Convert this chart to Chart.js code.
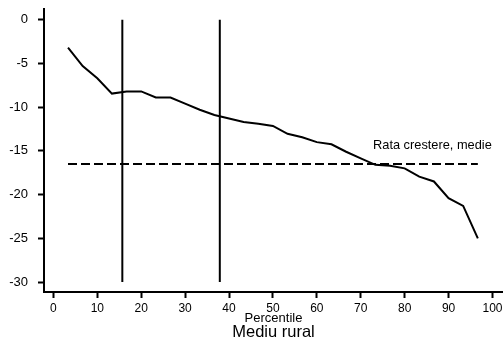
<!DOCTYPE html>
<html>
<head>
<meta charset="utf-8">
<script src="https://cdn.jsdelivr.net/npm/chart.js@4.4.1/dist/chart.umd.min.js"></script>
<style>
    body { margin: 0; background: #fff; }
    canvas { display: block; }
</style>
</head>
<body>
<canvas id="growth-chart" width="503" height="341"></canvas>
<script>
(function () {
    "use strict";

    // Percentile points and growth rate per percentile
    var percentiles = [3.33, 6.67, 10, 13.33, 16.67, 20, 23.33, 26.67, 30, 33.33,
        36.67, 40, 43.33, 46.67, 50, 53.33, 56.67, 60, 63.33, 66.67,
        70, 73.33, 76.67, 80, 83.33, 86.67, 90, 93.33, 96.67];
    var growth = [-3.2, -5.3, -6.7, -8.45, -8.2, -8.2, -8.9, -8.9, -9.6, -10.3,
        -10.9, -11.3, -11.7, -11.9, -12.15, -13.05, -13.45, -14.0, -14.25, -15.1,
        -15.85, -16.6, -16.7, -17.0, -17.95, -18.5, -20.4, -21.3, -25.0];

    // Mean growth rate and the two marker percentiles
    var meanGrowth = -16.5;
    var markers = [15.7, 37.9];
    var markerSpan = [0, -30];

    var xTicks = [0, 10, 20, 30, 40, 50, 60, 70, 80, 90, 100];
    var yTicks = [0, -5, -10, -15, -20, -25, -30];

    var meanLabel = "Rata crestere, medie";
    var xTitle = "Percentile";
    var chartTitle = "Mediu rural";

    var font = "'Liberation Sans', Arial, sans-serif";

    var datasets = [{
        data: percentiles.map(function (p, i) { return {x: p, y: growth[i]}; }),
        borderColor: "#000",
        borderWidth: 2,
        showLine: true,
        pointRadius: 0
    }, {
        data: [{x: percentiles[0], y: meanGrowth}, {x: percentiles[percentiles.length - 1], y: meanGrowth}],
        borderColor: "#000",
        borderWidth: 2,
        borderDash: [9, 4],
        showLine: true,
        pointRadius: 0
    }];
    markers.forEach(function (m) {
        datasets.push({
            data: [{x: m, y: markerSpan[0]}, {x: m, y: markerSpan[1]}],
            borderColor: "#000",
            borderWidth: 2,
            showLine: true,
            pointRadius: 0
        });
    });

    // Text next to the mean line
    var meanLabelPlugin = {
        id: "meanLabel",
        afterDatasetsDraw: function (chart) {
            var ctx = chart.ctx;
            var x = chart.scales.x.getPixelForValue(72.8);
            var y = chart.scales.y.getPixelForValue(-14.82);
            ctx.save();
            ctx.font = "12.8px " + font;
            ctx.fillStyle = "#000";
            ctx.textAlign = "left";
            ctx.textBaseline = "alphabetic";
            ctx.fillText(meanLabel, x, y);
            ctx.restore();
        }
    };

    // keep the axes from reserving room for their end labels
    function noLabelPadding(scale) {
        scale.paddingTop = 0;
        scale.paddingBottom = 0;
        scale.paddingLeft = 0;
        scale.paddingRight = 0;
    }

    var ctx = document.getElementById("growth-chart").getContext("2d");
    var growthChart = new Chart(ctx, {
        type: "scatter",
        data: { datasets: datasets },
        options: {
            responsive: false,
            animation: false,
            layout: { padding: { top: 9.3, right: 0, bottom: 0, left: 0 } },
            plugins: {
                legend: { display: false },
                tooltip: { enabled: false },
                title: {
                    display: true,
                    text: chartTitle,
                    position: "bottom",
                    fullSize: false,
                    color: "#000",
                    font: { family: font, size: 16.5, weight: "normal", lineHeight: 1.2 },
                    padding: { top: 2, bottom: -1 }
                }
            },
            scales: {
                x: {
                    type: "linear",
                    min: -2.14,
                    max: 102.4,
                    afterBuildTicks: function (scale) {
                        scale.ticks = xTicks.map(function (v) { return {value: v}; });
                    },
                    afterFit: function (scale) {
                        scale.height = 28.2;
                        noLabelPadding(scale);
                    },
                    border: { display: true, color: "#000", width: 2 },
                    grid: { display: true, drawOnChartArea: false, drawTicks: true, tickLength: 6, tickWidth: 2, tickColor: "#000" },
                    ticks: { color: "#000", padding: 3.5, maxRotation: 0, autoSkip: false, font: { family: font, size: 12 } },
                    title: {
                        display: true,
                        text: xTitle,
                        color: "#000",
                        font: { family: font, size: 13, lineHeight: 1.2 },
                        padding: { top: 0, bottom: -5.8 }
                    }
                },
                y: {
                    type: "linear",
                    min: -31.14,
                    max: 1.19,
                    afterBuildTicks: function (scale) {
                        scale.ticks = yTicks.map(function (v) { return {value: v}; });
                    },
                    afterFit: function (scale) {
                        scale.width = 44;
                        noLabelPadding(scale);
                    },
                    border: { display: true, color: "#000", width: 2 },
                    grid: { display: true, drawOnChartArea: false, drawTicks: true, tickLength: 6, tickWidth: 2, tickColor: "#000" },
                    ticks: { color: "#000", padding: 10, autoSkip: false, font: { family: font, size: 13 } }
                }
            }
        },
        plugins: [meanLabelPlugin]
    });
})();
</script>
</body>
</html>
